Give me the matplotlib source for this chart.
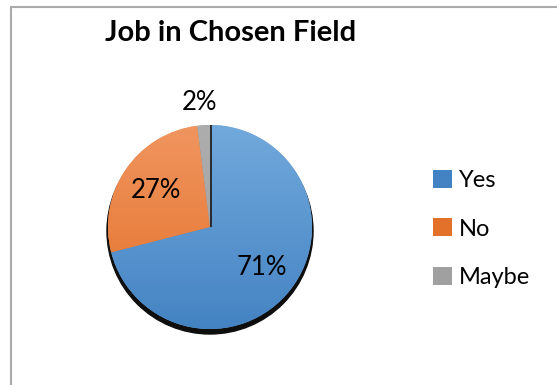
import numpy as np
import matplotlib
matplotlib.use("Agg")
import matplotlib.pyplot as plt
from matplotlib.colors import LinearSegmentedColormap
from matplotlib.patches import Circle, Rectangle

labels = ["Yes", "No", "Maybe"]
shares = [71, 27, 2]
tops = ["#72A9DC", "#F0955F", "#ADADAD"]
bottoms = ["#4483C3", "#E4712A", "#A0A0A0"]

W, H = 557, 385
plt.rcParams["font.family"] = ["Lato", "DejaVu Sans"]

fig = plt.figure(figsize=(W / 100, H / 100), dpi=100)
ax = fig.add_axes([0, 0, 1, 1])
ax.axis("off")

# chart frame (only the left and top edges fall inside the image)
ax.add_patch(Rectangle((11, -10), W + 20, H - 7 + 10, fill=False,
                       edgecolor="#ABABAB", linewidth=1.5))

cx, cy, r = 210, H - 227, 102

# dark rim under the pie
ax.add_patch(Circle((cx, cy - 4), r + 1, color="#0E0E0E", zorder=1))

wedges, texts, autotexts = ax.pie(
    shares, colors=tops, startangle=90, counterclock=False,
    center=(cx, cy), radius=r, autopct="%d%%", pctdistance=0.64,
    wedgeprops=dict(linewidth=0, zorder=2),
    textprops=dict(fontsize=18.5, color="black"),
)

# vertical shading inside each slice
for w, c0, c1 in zip(wedges, tops, bottoms):
    cmap = LinearSegmentedColormap.from_list("g", [c1, c0])
    grad = np.linspace(0, 1, 256).reshape(-1, 1)
    im = ax.imshow(grad, cmap=cmap, origin="lower", aspect="auto",
                   extent=(cx - r, cx + r, cy - r, cy + r), zorder=3)
    im.set_clip_path(w)

# thin shadow along the edge where the first slice starts
a = np.deg2rad(wedges[0].theta2)
ax.plot([cx + 1, cx + 1 + r * np.cos(a)], [cy, cy + r * np.sin(a)],
        color="#222222", linewidth=1.3, zorder=4, solid_capstyle="butt")

for t in autotexts:
    t.set_zorder(5)

# small slice label sits above the pie
w = wedges[2]
mid = np.deg2rad((w.theta1 + w.theta2) / 2)
autotexts[2].set_position((cx + 1.22 * r * np.cos(mid) - 3,
                           cy + 1.22 * r * np.sin(mid)))

ax.set_xlim(0, W)
ax.set_ylim(0, H)
ax.set_aspect("equal")

ax.text(231, H - 33, "Job in Chosen Field", fontsize=21, fontweight="bold",
        ha="center", va="center")

leg = ax.legend(wedges, labels, loc="center left",
                bbox_to_anchor=(433 / W, 1 - 229 / H), frameon=False,
                fontsize=17, handlelength=0.8, handleheight=0.8,
                handletextpad=0.3, labelspacing=1.17, borderpad=0,
                borderaxespad=0)
for h, c in zip(leg.legend_handles, bottoms):
    h.set_facecolor(c)

fig.savefig("out.png", dpi=100)
